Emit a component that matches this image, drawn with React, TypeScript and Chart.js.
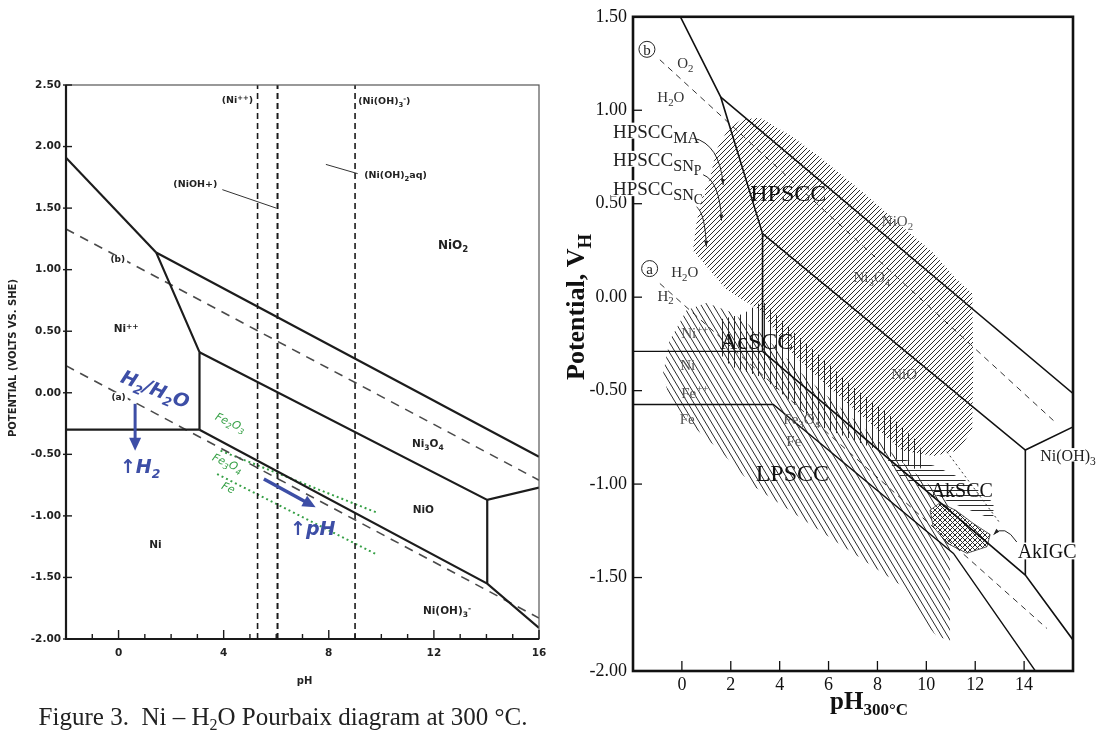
import React, { useEffect, useRef } from "react";
import { Chart, registerables } from "chart.js";

Chart.register(...registerables);

type P = [number, number];
type Seg = [string, number?];
interface Lab { x: number; y: number; segs: Seg[]; align?: "left" | "center" | "right"; rot?: number; bg?: boolean }

// ================= LEFT: Figure 3, Ni - H2O at 300 C =================
const leftX = { min: -2, max: 16 };
const leftY = { min: -2, max: 2.5 };

const lNiPlusNiO2: P[] = [[-2, 1.91], [1.43, 1.14]];
const lNi3O4NiO2: P[] = [[1.43, 1.14], [16, -0.52]];
const lNiPlusNi3O4: P[] = [[1.43, 1.14], [3.08, 0.33], [3.08, -0.3]];
const lNiNiPlus: P[] = [[-2, -0.3], [3.08, -0.3]];
const lNi3O4NiO: P[] = [[3.08, 0.33], [14.03, -0.87], [16, -0.77]];
const lNiONiOH3: P[] = [[14.03, -0.87], [14.03, -1.55]];
const lNiNiO: P[] = [[3.08, -0.3], [14.03, -1.55], [16, -1.91]];
const lWaterB: P[] = [[-2, 1.33], [16, -0.71]];
const lWaterA: P[] = [[-2, 0.22], [16, -1.83]];
const lSpeciesPH = [5.29, 6.05, 9.0];
const lLeaderNiOH: P[] = [[3.95, 1.65], [6.0, 1.5]];
const lLeaderNiOH2: P[] = [[7.89, 1.855], [9.1, 1.78]];
const lFe2O3Fe3O4: P[] = [[3.88, -0.47], [9.79, -0.97]];
const lFe3O4Fe: P[] = [[3.75, -0.66], [9.79, -1.31]];
const lArrowH2: P[] = [[0.63, -0.09], [0.63, -0.47]];
const lArrowPH: P[] = [[5.53, -0.7], [7.5, -0.93]];

const leftSpecies: Lab[] = [
  { x: 4.52, y: 2.38, segs: [["(Ni"], ["++", 2], [")"]] },
  { x: 9.12, y: 2.37, segs: [["(Ni(OH)"], ["3", 1], ["-", 2], [")"]], align: "left" },
  { x: 2.92, y: 1.7, segs: [["(NiOH+)"]] },
  { x: 9.35, y: 1.77, segs: [["(Ni(OH)"], ["2", 1], ["aq)"]], align: "left" },
];
const leftRegions: Lab[] = [
  { x: 12.73, y: 1.2, segs: [["NiO"], ["2", 1]] },
  { x: 0.29, y: 0.52, segs: [["Ni"], ["++", 2]] },
  { x: 11.77, y: -0.41, segs: [["Ni"], ["3", 1], ["O"], ["4", 1]] },
  { x: 11.6, y: -0.95, segs: [["NiO"]] },
  { x: 1.4, y: -1.23, segs: [["Ni"]] },
  { x: 12.5, y: -1.77, segs: [["Ni(OH)"], ["3", 1], ["-", 2]] },
];
const leftLineTags: Lab[] = [
  { x: -0.03, y: 1.085, segs: [["(b)"]], bg: true },
  { x: 0.0, y: -0.03, segs: [["(a)"]], bg: true },
];
const leftGreen: Lab[] = [
  { x: 4.26, y: -0.24, segs: [["Fe"], ["2", 1], ["O"], ["3", 1]], rot: 24 },
  { x: 4.15, y: -0.57, segs: [["Fe"], ["3", 1], ["O"], ["4", 1]], rot: 24 },
  { x: 4.18, y: -0.77, segs: [["Fe"]], rot: 24 },
];
const leftBlue: Lab[] = [
  { x: 1.4, y: 0.03, segs: [["H"], ["2", 1], ["/H"], ["2", 1], ["O"]], rot: 22 },
  { x: 0.82, y: -0.6, segs: [["\u2191H"], ["2", 1]] },
  { x: 7.39, y: -1.1, segs: [["\u2191pH"]] },
];

// ================= RIGHT: SCC modes on Ni Pourbaix =================
const rightX = { min: -2, max: 16 };
const rightY = { min: -2, max: 1.5 };

const rSteep: P[] = [[-0.06, 1.5], [1.59, 1.07], [3.3, 0.34]];
const rNi3O4NiO2: P[] = [[1.59, 1.07], [16, -0.515]];
const rVertAcid: P[] = [[3.3, 0.34], [3.3, -0.29]];
const rNiNiPlus: P[] = [[-2, -0.29], [3.3, -0.29]];
const rNi3O4NiO: P[] = [[3.3, 0.34], [14.05, -0.818], [16, -0.694]];
const rVertAlk: P[] = [[14.05, -0.818], [14.05, -1.487]];
const rNiNiO: P[] = [[3.3, -0.29], [14.05, -1.487], [16, -1.834]];
const rFeLine: P[] = [[-2, -0.574], [3.74, -0.574], [11.11, -1.371], [14.46, -2]];
const rWaterB: P[] = [[-0.9, 1.27], [15.2, -0.66]];
const rWaterA: P[] = [[-0.9, 0.073], [14.93, -1.772]];
const rFeDotted: P[] = [[10.84, -0.827], [13.02, -1.21]];

const rHPSCC: P[] = [
  [2.44, 0.95], [3.2, 0.96], [4.5, 0.86], [5.64, 0.75], [7.5, 0.55], [9.0, 0.38], [10.3, 0.235],
  [11.2, 0.1], [11.88, 0.02], [11.92, -0.35], [11.88, -0.71], [11.3, -0.82], [10.3, -0.85],
  [9.0, -0.82], [7.5, -0.65], [6.0, -0.48], [4.5, -0.3], [3.19, -0.07], [1.83, 0.04], [0.45, 0.25],
  [0.6, 0.4], [0.86, 0.55], [1.14, 0.63], [1.42, 0.79], [1.9, 0.9],
];
const rAcSCC: P[] = [
  [1.55, -0.12], [2.5, -0.09], [3.3, -0.02], [4.6, -0.19], [5.7, -0.32], [7.0, -0.48], [8.4, -0.62],
  [9.7, -0.78], [9.9, -0.88], [9.7, -0.93], [8.05, -0.82], [5.65, -0.69], [3.3, -0.43], [2.0, -0.37], [1.55, -0.3],
];
const rLPSCC: P[] = [
  [0.19, -0.07], [1.0, -0.03], [2.0, -0.08], [3.3, -0.2], [5.0, -0.42], [7.0, -0.65], [9.0, -0.88],
  [10.97, -1.1], [10.97, -1.84], [10.4, -1.81], [9.8, -1.72], [9.06, -1.55], [7.01, -1.37], [4.96, -1.19],
  [2.92, -1.01], [1.55, -0.82], [0.19, -0.66], [-0.5, -0.55], [-0.77, -0.41], [-0.5, -0.23],
];
const rAkSCC: P[] = [
  [8.3, -0.85], [10.3, -0.9], [11.6, -0.98], [12.75, -1.1], [12.74, -1.19], [10.84, -1.09], [8.93, -0.96],
];
const rAkIGC: P[] = [
  [10.15, -1.14], [10.56, -1.1], [11.2, -1.14], [11.91, -1.21], [12.61, -1.27], [12.48, -1.335],
  [11.66, -1.37], [10.84, -1.316], [10.28, -1.228], [10.15, -1.14],
];

const rightModes: Lab[] = [
  { x: 4.35, y: 0.56, segs: [["HPSCC"]] },
  { x: 3.06, y: -0.23, segs: [["AcSCC"]] },
  { x: 4.52, y: -0.94, segs: [["LPSCC"]] },
];
const rightAlkModes: Lab[] = [
  { x: 11.45, y: -1.03, segs: [["AkSCC"]] },
  { x: 14.94, y: -1.36, segs: [["AkIGC"]], bg: true },
];
const rightPhases: Lab[] = [
  { x: 8.82, y: 0.41, segs: [["NiO"], ["2", 1]] },
  { x: 7.77, y: 0.11, segs: [["Ni"], ["3", 1], ["O"], ["4", 1]] },
  { x: 9.09, y: -0.41, segs: [["NiO"]] },
  { x: 0.53, y: -0.19, segs: [["Ni"], ["++", 2]] },
  { x: 0.24, y: -0.36, segs: [["Ni"]] },
  { x: 0.53, y: -0.51, segs: [["Fe"], ["++", 2]] },
  { x: 0.22, y: -0.65, segs: [["Fe"]] },
  { x: 4.9, y: -0.65, segs: [["Fe"], ["3", 1], ["O"], ["4", 1]] },
  { x: 4.58, y: -0.77, segs: [["Fe"]] },
];
const rightWater: Lab[] = [
  { x: 0.14, y: 1.255, segs: [["O"], ["2", 1]] },
  { x: -0.45, y: 1.07, segs: [["H"], ["2", 1], ["O"]] },
  { x: 0.12, y: 0.135, segs: [["H"], ["2", 1], ["O"]] },
  { x: -0.67, y: 0.01, segs: [["H"], ["2", 1]] },
];
const rightEdgeLabels: Lab[] = [
  { x: 14.66, y: -0.845, segs: [["Ni(OH)"], ["3", 1]], align: "left", bg: true },
];
const rightHpLabels: Lab[] = [
  { x: -2.82, y: 0.889, segs: [["HPSCC"], ["MA", 1]], align: "left", bg: true },
  { x: -2.82, y: 0.738, segs: [["HPSCC"], ["SN", 1], ["P", 3]], align: "left", bg: true },
  { x: -2.82, y: 0.581, segs: [["HPSCC"], ["SN", 1], ["C", 3]], align: "left", bg: true },
];
const rightCircles: Lab[] = [
  { x: -1.43, y: 1.326, segs: [["b"]] },
  { x: -1.32, y: 0.153, segs: [["a"]] },
];
// curved pointers: [start, control, end]
const rightPointers: P[][] = [
  [[0.46, 0.852], [1.55, 0.82], [1.69, 0.6]],
  [[0.87, 0.655], [1.55, 0.62], [1.62, 0.41]],
  [[0.6, 0.483], [0.95, 0.45], [1.0, 0.27]],
  [[13.7, -1.31], [13.2, -1.21], [12.75, -1.27]],
];

// ================= helpers =================
const SERIF = "'Liberation Serif', 'Times New Roman', serif";
const SANS = "'DejaVu Sans', 'Liberation Sans', sans-serif";

const toXY = (pts: P[]) => pts.map(([x, y]) => ({ x, y }));

function lineDs(pts: P[], color: string, width: number, dash: number[] = []) {
  return {
    data: toXY(pts), showLine: true, borderColor: color, borderWidth: width, borderDash: dash,
    pointRadius: 0, pointHoverRadius: 0, fill: false, tension: 0, order: 0,
  };
}
function areaDs(pts: P[], bg: any, order = 5, border = "rgba(0,0,0,0)", bw = 0) {
  return {
    data: toXY(pts), showLine: true, borderColor: border, borderWidth: bw, backgroundColor: bg,
    pointRadius: 0, pointHoverRadius: 0, fill: "shape", tension: 0, order,
  };
}

function makePattern(kind: string): any {
  const c = document.createElement("canvas");
  let w = 5, h = 5;
  if (kind === "lp") { w = 6; h = 10; }
  if (kind === "v") { w = 6; h = 2; }
  if (kind === "h") { w = 2; h = 5; }
  if (kind === "x") { w = 5; h = 5; }
  c.width = w; c.height = h;
  const g = c.getContext("2d")!;
  if (kind === "x") { g.fillStyle = "#fff"; g.fillRect(0, 0, w, h); }
  g.strokeStyle = "#2a2a2a";
  g.fillStyle = "#2a2a2a";
  g.lineWidth = 1;
  if (kind === "v") g.fillRect(0, 0, 1, h);
  else if (kind === "h") g.fillRect(0, 0, w, 1);
  else {
    g.beginPath();
    for (let k = -1; k <= 1; k++) {
      if (kind === "hp" || kind === "x") { g.moveTo(k * w, h); g.lineTo(k * w + w, 0); }
      if (kind === "lp" || kind === "x") { g.moveTo(k * w, 0); g.lineTo(k * w + w, h); }
    }
    g.stroke();
  }
  return g.createPattern(c, "repeat");
}

interface TxtOpt { size: number; family?: string; weight?: string; style?: string; color?: string; subScale?: number }

function drawRich(ctx: CanvasRenderingContext2D, l: Lab, px: number, py: number, o: TxtOpt) {
  const size = o.size, fam = o.family ?? SERIF, weight = o.weight ?? "normal", style = o.style ?? "normal";
  const ss = o.subScale ?? 0.72;
  const parts = l.segs.map(([t, k = 0]) => {
    const sz = k === 0 ? size : k === 3 ? size * ss * 0.85 : size * ss;
    const dy = k === 1 ? size * 0.26 : k === 2 ? -size * 0.36 : k === 3 ? size * 0.48 : 0;
    ctx.font = `${style} ${weight} ${sz}px ${fam}`;
    return { t, sz, dy, w: ctx.measureText(t).width };
  });
  const W = parts.reduce((s, p) => s + p.w, 0);
  ctx.save();
  ctx.translate(px, py);
  if (l.rot) ctx.rotate((l.rot * Math.PI) / 180);
  let x0 = l.align === "left" ? 0 : l.align === "right" ? -W : -W / 2;
  if (l.bg) {
    ctx.fillStyle = "#fff";
    ctx.fillRect(x0 - 2, -size * 0.44, W + 4, size * 0.84);
  }
  ctx.fillStyle = o.color ?? "#111";
  ctx.textAlign = "left";
  ctx.textBaseline = "alphabetic";
  for (const p of parts) {
    ctx.font = `${style} ${weight} ${p.sz}px ${fam}`;
    ctx.fillText(p.t, x0, size * 0.35 + p.dy);
    x0 += p.w;
  }
  ctx.restore();
}

function arrowHead(ctx: CanvasRenderingContext2D, fx: number, fy: number, tx: number, ty: number, len: number, wid: number) {
  const a = Math.atan2(ty - fy, tx - fx);
  ctx.beginPath();
  ctx.moveTo(tx, ty);
  ctx.lineTo(tx - len * Math.cos(a) + (wid / 2) * Math.sin(a), ty - len * Math.sin(a) - (wid / 2) * Math.cos(a));
  ctx.lineTo(tx - len * Math.cos(a) - (wid / 2) * Math.sin(a), ty - len * Math.sin(a) + (wid / 2) * Math.cos(a));
  ctx.closePath();
  ctx.fill();
}

// ================= left chart =================
const leftOverlay = {
  id: "leftOverlay",
  afterDraw(chart: any) {
    const { ctx, chartArea: a, scales } = chart;
    const sx = scales.x, sy = scales.y;
    const X = (v: number) => sx.getPixelForValue(v);
    const Y = (v: number) => sy.getPixelForValue(v);
    ctx.save();
    ctx.strokeStyle = "#555";
    ctx.lineWidth = 1.2;
    ctx.strokeRect(a.left, a.top, a.right - a.left, a.bottom - a.top);
    ctx.strokeStyle = "#1a1a1a";
    ctx.lineWidth = 2.2;
    ctx.beginPath();
    ctx.moveTo(a.left, a.top);
    ctx.lineTo(a.left, a.bottom);
    ctx.lineTo(a.right, a.bottom);
    ctx.stroke();
    ctx.lineWidth = 1.4;
    sy.ticks.forEach((t: any) => {
      const y = Y(t.value);
      ctx.beginPath(); ctx.moveTo(a.left - 3, y); ctx.lineTo(a.left + 6, y); ctx.stroke();
    });
    sx.ticks.forEach((t: any) => {
      const x = X(t.value);
      const major = Math.abs(t.value % 4) < 1e-9;
      ctx.beginPath(); ctx.moveTo(x, a.bottom); ctx.lineTo(x, a.bottom - (major ? 9 : 5)); ctx.stroke();
    });
    ctx.strokeStyle = "#3d4ea6";
    ctx.fillStyle = "#3d4ea6";
    [lArrowH2, lArrowPH].forEach((arr, i) => {
      const [p0, p1] = arr;
      const x0 = X(p0[0]), y0 = Y(p0[1]), x1 = X(p1[0]), y1 = Y(p1[1]);
      ctx.lineWidth = i === 0 ? 3 : 3.5;
      const ang = Math.atan2(y1 - y0, x1 - x0);
      ctx.beginPath(); ctx.moveTo(x0, y0); ctx.lineTo(x1 - 8 * Math.cos(ang), y1 - 8 * Math.sin(ang)); ctx.stroke();
      arrowHead(ctx, x0, y0, x1, y1, 13, 12);
    });
    leftSpecies.forEach((l) => drawRich(ctx, l, X(l.x), Y(l.y), { size: 9.5, family: SANS, weight: "bold", color: "#222" }));
    leftRegions.forEach((l, i) => drawRich(ctx, l, X(l.x), Y(l.y), { size: i === 0 ? 12 : 10.5, family: SANS, weight: "bold", color: "#222" }));
    leftLineTags.forEach((l) => drawRich(ctx, l, X(l.x), Y(l.y), { size: 9, family: SANS, weight: "bold", color: "#222" }));
    leftGreen.forEach((l) => drawRich(ctx, l, X(l.x), Y(l.y), { size: 11, family: SANS, style: "italic", color: "#36a046" }));
    leftBlue.forEach((l) => drawRich(ctx, l, X(l.x), Y(l.y), { size: 19, family: SANS, style: "italic", weight: "bold", color: "#3d4ea6", subScale: 0.65 }));
    drawRich(ctx, { x: 0, y: 0, segs: [["POTENTIAL (VOLTS VS. SHE)"]], rot: -90 }, 12, (a.top + a.bottom) / 2 - 4, { size: 10, family: SANS, weight: "bold", color: "#222" });
    drawRich(ctx, { x: 0, y: 0, segs: [["pH"]] }, (a.left + a.right) / 2 + 2, 680, { size: 10, family: SANS, weight: "bold", color: "#222" });
    ctx.restore();
  },
};

function leftConfig(): any {
  const datasets: any[] = [
    lineDs(lNiPlusNiO2, "#1c1c1c", 2.2),
    lineDs(lNi3O4NiO2, "#1c1c1c", 2.2),
    lineDs(lNiPlusNi3O4, "#1c1c1c", 2.2),
    lineDs(lNiNiPlus, "#1c1c1c", 2.2),
    lineDs(lNi3O4NiO, "#1c1c1c", 2.2),
    lineDs(lNiONiOH3, "#1c1c1c", 2.2),
    lineDs(lNiNiO, "#1c1c1c", 2.2),
    lineDs(lWaterB, "#4a4a4a", 1.6, [9, 7]),
    lineDs(lWaterA, "#4a4a4a", 1.6, [9, 7]),
    ...lSpeciesPH.map((v, i) => lineDs([[v, leftY.min], [v, leftY.max]], "#1a1a1a", i === 1 ? 2 : 1.6, [6, 4])),
    lineDs(lLeaderNiOH, "#333", 1),
    lineDs(lLeaderNiOH2, "#333", 1),
    lineDs(lFe2O3Fe3O4, "#36a046", 2, [2, 3]),
    lineDs(lFe3O4Fe, "#36a046", 2, [2, 3]),
  ];
  return {
    type: "scatter",
    data: { datasets },
    options: {
      responsive: false, animation: false, devicePixelRatio: 1, events: [],
      layout: { padding: { left: 0, right: 21, top: 85, bottom: 0 } },
      plugins: { legend: { display: false }, tooltip: { enabled: false } },
      scales: {
        x: {
          type: "linear", min: leftX.min, max: leftX.max,
          grid: { display: false, drawTicks: false, tickLength: 0 }, border: { display: false },
          ticks: {
            stepSize: 1, autoSkip: false, maxRotation: 0, padding: 8, color: "#222",
            font: { family: "DejaVu Sans", weight: "bold", size: 10.5 },
            callback: (v: any) => (Math.abs(v % 4) < 1e-9 ? String(v) : ""),
          },
          afterFit: (s: any) => { s.height = 99; },
        },
        y: {
          type: "linear", min: leftY.min, max: leftY.max,
          grid: { display: false, drawTicks: false, tickLength: 0 }, border: { display: false },
          ticks: {
            stepSize: 0.5, autoSkip: false, padding: 5, color: "#222",
            font: { family: "DejaVu Sans", weight: "bold", size: 10.5 },
            callback: (v: any) => Number(v).toFixed(2),
          },
          afterFit: (s: any) => { s.width = 66; },
        },
      },
    },
    plugins: [leftOverlay],
  };
}

// ================= right chart =================
const rightOverlay = {
  id: "rightOverlay",
  afterDraw(chart: any) {
    const { ctx, chartArea: a, scales } = chart;
    const sx = scales.x, sy = scales.y;
    const X = (v: number) => sx.getPixelForValue(v);
    const Y = (v: number) => sy.getPixelForValue(v);
    ctx.save();
    ctx.strokeStyle = "#111";
    ctx.lineWidth = 2.6;
    ctx.strokeRect(a.left, a.top, a.right - a.left, a.bottom - a.top);
    ctx.lineWidth = 1.3;
    sy.ticks.forEach((t: any) => {
      if (t.value <= rightY.min + 1e-6 || t.value >= rightY.max - 1e-6) return;
      const y = Y(t.value);
      ctx.beginPath(); ctx.moveTo(a.left, y); ctx.lineTo(a.left + 9, y); ctx.stroke();
    });
    sx.ticks.forEach((t: any) => {
      if (t.value <= rightX.min + 1e-6 || t.value >= rightX.max - 1e-6) return;
      const x = X(t.value);
      ctx.beginPath(); ctx.moveTo(x, a.bottom); ctx.lineTo(x, a.bottom - 10); ctx.stroke();
    });
    ctx.strokeStyle = "#222";
    ctx.fillStyle = "#222";
    ctx.lineWidth = 1;
    rightPointers.forEach(([p0, c, p1]) => {
      const x0 = X(p0[0]), y0 = Y(p0[1]), cx = X(c[0]), cy = Y(c[1]), x1 = X(p1[0]), y1 = Y(p1[1]);
      ctx.beginPath(); ctx.moveTo(x0, y0); ctx.quadraticCurveTo(cx, cy, x1, y1); ctx.stroke();
      arrowHead(ctx, cx, cy, x1, y1, 6, 4);
    });
    rightCircles.forEach((l) => {
      const cx = X(l.x), cy = Y(l.y);
      ctx.beginPath(); ctx.arc(cx, cy, 8, 0, Math.PI * 2);
      ctx.fillStyle = "#fff"; ctx.fill();
      ctx.strokeStyle = "#222"; ctx.lineWidth = 1; ctx.stroke();
      drawRich(ctx, l, cx, cy, { size: 15, color: "#222" });
    });
    rightModes.forEach((l) => drawRich(ctx, l, X(l.x), Y(l.y), { size: 24, color: "#111" }));
    rightAlkModes.forEach((l) => drawRich(ctx, l, X(l.x), Y(l.y), { size: 20, color: "#111" }));
    rightPhases.forEach((l) => drawRich(ctx, l, X(l.x), Y(l.y), { size: 15, color: "#555" }));
    rightWater.forEach((l) => drawRich(ctx, l, X(l.x), Y(l.y), { size: 15, color: "#333" }));
    rightEdgeLabels.forEach((l) => drawRich(ctx, l, X(l.x), Y(l.y), { size: 16, color: "#222" }));
    rightHpLabels.forEach((l) => drawRich(ctx, l, X(l.x), Y(l.y), { size: 19, color: "#222", subScale: 0.85 }));
    drawRich(ctx, { x: 0, y: 0, segs: [["Potential, V"], ["H", 1]], rot: -90 }, 15, 307, { size: 26, weight: "bold", color: "#111" });
    drawRich(ctx, { x: 0, y: 0, segs: [["pH"], ["300\u00b0C", 1]] }, 309, 700, { size: 25, weight: "bold", color: "#111", subScale: 0.68 });
    ctx.restore();
  },
};

function rightConfig(): any {
  const datasets: any[] = [
    lineDs(rSteep, "#111", 1.6),
    lineDs(rNi3O4NiO2, "#111", 1.6),
    lineDs(rVertAcid, "#111", 1.6),
    lineDs(rNiNiPlus, "#111", 1.3),
    lineDs(rNi3O4NiO, "#111", 1.6),
    lineDs(rVertAlk, "#111", 1.6),
    lineDs(rNiNiO, "#111", 1.6),
    lineDs(rFeLine, "#111", 1.4),
    lineDs(rWaterB, "#333", 1, [6, 5]),
    lineDs(rWaterA, "#333", 1, [6, 5]),
    lineDs(rFeDotted, "#333", 1, [2, 3]),
    areaDs(rAkIGC, makePattern("x"), 4, "#333", 0.8),
    areaDs(rAkSCC, makePattern("h"), 5),
    areaDs(rAcSCC, makePattern("v"), 5),
    areaDs(rHPSCC, makePattern("hp"), 5),
    areaDs(rLPSCC, makePattern("lp"), 5),
  ];
  const tickFont = { family: "Liberation Serif", size: 18 };
  return {
    type: "scatter",
    data: { datasets },
    options: {
      responsive: false, animation: false, devicePixelRatio: 1, events: [],
      layout: { padding: { left: 0, right: 26, top: 16, bottom: 0 } },
      plugins: { legend: { display: false }, tooltip: { enabled: false } },
      scales: {
        x: {
          type: "linear", min: rightX.min, max: rightX.max,
          grid: { display: false, drawTicks: false, tickLength: 0 }, border: { display: false },
          ticks: {
            stepSize: 2, autoSkip: false, maxRotation: 0, padding: 3, color: "#111", font: tickFont,
            callback: (v: any) => (v >= 0 && v <= 14 ? String(v) : ""),
          },
          afterFit: (s: any) => { s.height = 67; },
        },
        y: {
          type: "linear", min: rightY.min, max: rightY.max,
          grid: { display: false, drawTicks: false, tickLength: 0 }, border: { display: false },
          ticks: {
            stepSize: 0.5, autoSkip: false, padding: 6, color: "#111", font: tickFont,
            callback: (v: any) => Number(v).toFixed(2),
          },
          afterFit: (s: any) => { s.width = 73; },
        },
      },
    },
    plugins: [rightOverlay],
  };
}

export default function App() {
  const leftRef = useRef<HTMLCanvasElement>(null);
  const rightRef = useRef<HTMLCanvasElement>(null);
  useEffect(() => {
    const c1 = new Chart(leftRef.current!, leftConfig());
    const c2 = new Chart(rightRef.current!, rightConfig());
    return () => {
      c1.destroy();
      c2.destroy();
    };
  }, []);
  return (
    <div style={{ position: "absolute", left: 0, top: 0, width: 1099, height: 738, background: "#fff", overflow: "hidden" }}>
      <canvas ref={leftRef} width={560} height={738} style={{ position: "absolute", left: 0, top: 0, width: 560, height: 738 }} />
      <canvas ref={rightRef} width={539} height={738} style={{ position: "absolute", left: 560, top: 0, width: 539, height: 738 }} />
      <div
        style={{
          position: "absolute", left: 0, top: 704, width: 566, textAlign: "center", whiteSpace: "pre",
          fontFamily: SERIF, fontSize: 25, lineHeight: "25px", color: "#222",
        }}
      >
        {"Figure 3.  Ni \u2013 H"}
        <span style={{ fontSize: 16, position: "relative", top: 5 }}>2</span>
        {"O Pourbaix diagram at 300 \u00b0C."}
      </div>
    </div>
  );
}
